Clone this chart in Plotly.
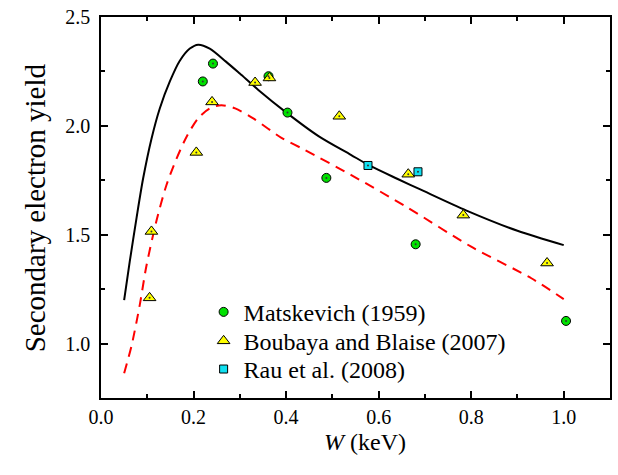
import plotly.graph_objects as go

# Measured secondary electron yield vs. primary energy W (keV)
matsk_w = [0.220, 0.242, 0.362, 0.403, 0.487, 0.680, 1.005]
matsk_y = [2.204, 2.286, 2.228, 2.061, 1.761, 1.456, 1.104]

boub_w = [0.105, 0.109, 0.206, 0.240, 0.333, 0.364, 0.515, 0.664, 0.783, 0.964]
boub_y = [1.210, 1.515, 1.878, 2.110, 2.199, 2.220, 2.044, 1.778, 1.590, 1.370]

rau_w = [0.577, 0.685]
rau_y = [1.818, 1.789]

# Model curves (solid and dashed)
solid_w = [0.050, 0.062, 0.077, 0.091, 0.109, 0.127, 0.149, 0.170, 0.192, 0.210,
           0.235, 0.270, 0.300, 0.340, 0.400, 0.470, 0.540, 0.580, 0.640, 0.690,
           0.790, 0.900, 1.000]
solid_y = [1.200, 1.375, 1.580, 1.758, 1.940, 2.080, 2.205, 2.298, 2.355, 2.373,
           2.355, 2.295, 2.240, 2.165, 2.062, 1.953, 1.867, 1.818, 1.757, 1.708,
           1.611, 1.518, 1.452]

dash_w = [0.050, 0.066, 0.084, 0.098, 0.120, 0.141, 0.163, 0.185, 0.210, 0.235,
          0.260, 0.290, 0.330, 0.390, 0.440, 0.540, 0.660, 0.800, 0.930, 1.000]
dash_y = [0.864, 0.990, 1.180, 1.355, 1.565, 1.725, 1.848, 1.950, 2.035, 2.080,
          2.095, 2.080, 2.033, 1.945, 1.890, 1.775, 1.628, 1.445, 1.300, 1.204]

x_ticks = [0.0, 0.2, 0.4, 0.6, 0.8, 1.0]
y_ticks = [1.0, 1.5, 2.0, 2.5]

FONT = "Liberation Serif"

fig = go.Figure()

fig.add_trace(go.Scatter(x=solid_w, y=solid_y, mode="lines", showlegend=False,
                         line=dict(color="black", width=2, shape="spline", smoothing=0.8)))
fig.add_trace(go.Scatter(x=dash_w, y=dash_y, mode="lines", showlegend=False,
                         line=dict(color="#ff0000", width=2, dash="10px,7px",
                                   shape="spline", smoothing=0.8)))

fig.add_trace(go.Scatter(x=matsk_w, y=matsk_y, mode="markers", name="Matskevich (1959)",
                         legend="legend",
                         marker=dict(symbol="circle", size=9, color="#00e000",
                                     line=dict(color="black", width=1))))
fig.add_trace(go.Scatter(x=boub_w, y=boub_y, mode="markers", name="Boubaya and Blaise (2007)",
                         legend="legend2",
                         marker=dict(symbol="triangle-up", size=11, color="#ffff00",
                                     line=dict(color="black", width=1))))
fig.add_trace(go.Scatter(x=rau_w, y=rau_y, mode="markers", name="Rau et al. (2008)",
                         legend="legend3",
                         marker=dict(symbol="square", size=8, color="#10e0f0",
                                     line=dict(color="black", width=1))))

# small centre dots on the symbols
fig.add_trace(go.Scatter(x=matsk_w + boub_w + rau_w, y=matsk_y + boub_y + rau_y,
                         mode="markers", showlegend=False, hoverinfo="skip",
                         marker=dict(symbol="circle", size=2, color="#333333")))

axis_common = dict(
    showline=True, linecolor="black", linewidth=1.5, mirror="ticks",
    ticks="inside", ticklen=7, tickwidth=1.5, tickcolor="black",
    showgrid=False, zeroline=False,
    tickfont=dict(family=FONT, size=20, color="black"),
)

fig.update_xaxes(range=[0.0, 1.1], tickvals=x_ticks, tickformat=".1f",
                 minor=dict(ticks="inside", ticklen=4, tickwidth=1.5, tickcolor="black", dtick=0.1),
                 ticklabelstandoff=0, **axis_common)
fig.update_yaxes(range=[0.75, 2.5], tickvals=y_ticks, tickformat=".1f",
                 minor=dict(ticks="inside", ticklen=4, tickwidth=1.5, tickcolor="black", dtick=0.25),
                 ticklabelstandoff=5, **axis_common)

fig.add_annotation(text="<i>W</i> (keV)", xref="paper", yref="paper", x=0.518, y=-0.115,
                   xanchor="center", yanchor="middle", showarrow=False,
                   font=dict(family=FONT, size=24, color="black"))
fig.add_annotation(text="Secondary electron yield", xref="paper", yref="paper", x=-0.13, y=0.5,
                   xanchor="center", yanchor="middle", textangle=-90, showarrow=False,
                   font=dict(family=FONT, size=29, color="black"))

legend_common = dict(x=0.2016, xanchor="left", yanchor="middle",
                     bgcolor="rgba(0,0,0,0)", borderwidth=0,
                     font=dict(family=FONT, size=24, color="black"))

fig.update_layout(
    width=618, height=475,
    margin=dict(l=101, r=6, t=16, b=77),
    paper_bgcolor="white", plot_bgcolor="white",
    font=dict(family=FONT, color="black"),
    legend=dict(y=0.225, **legend_common),
    legend2=dict(y=0.149, **legend_common),
    legend3=dict(y=0.075, **legend_common),
)

fig.write_html("out.html")
